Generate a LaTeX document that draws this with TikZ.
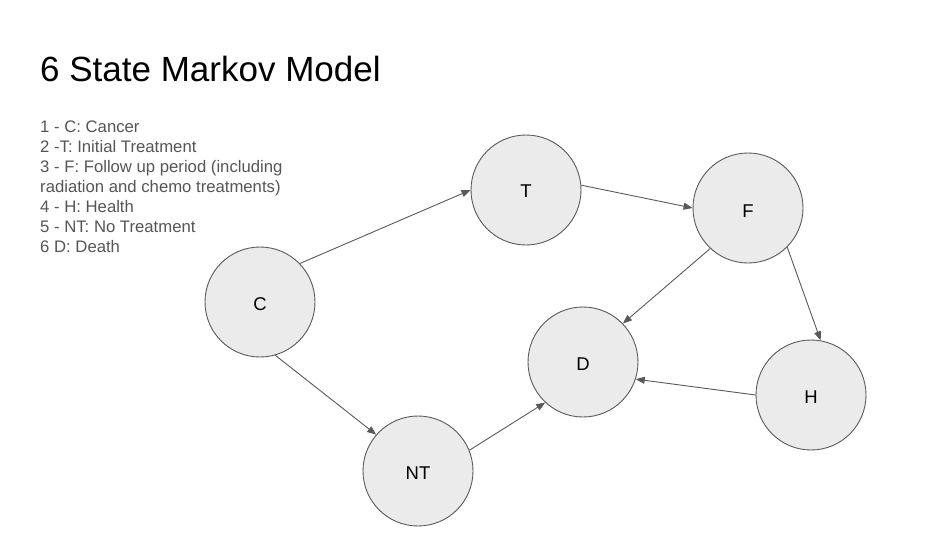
\documentclass[tikz,border=0pt]{standalone}
\usepackage{fontspec}
\setmainfont{Liberation Sans}
\usetikzlibrary{arrows.meta}
\definecolor{edgegray}{HTML}{595959}
\definecolor{fillgray}{HTML}{EBEBEB}
\definecolor{textgray}{HTML}{555555}
\begin{document}
\begin{tikzpicture}[x=1pt,y=-1pt,
  state/.style={circle,draw=edgegray,fill=fillgray,line width=0.9pt,minimum size=110pt,inner sep=0pt,font=\fontsize{18.5}{20}\selectfont},
  lbl/.style={inner sep=0pt,font=\fontsize{18.5}{20}\selectfont},
  trans/.style={draw=edgegray,line width=0.9pt,-{Triangle[length=9pt,width=7pt]}}]
\useasboundingbox (0,0) rectangle (925,541);
\node[anchor=base west,inner sep=0pt,font=\fontsize{35}{40}\selectfont] (title) at (40,81) {6 State Markov Model};
\node[anchor=north west,inner sep=0pt,align=left,text=textgray,font=\fontsize{16.7}{20}\selectfont] (legend) at (40,121) {1 - C: Cancer\\2 -T: Initial Treatment\\3 - F: Follow up period (including\\radiation and chemo treatments)\\4 - H: Health\\5 - NT: No Treatment\\6 D: Death};
\node[state] (C) at (260,302) {};
\node[state] (T) at (526,190) {};
\node[state] (F) at (748,208) {};
\node[state] (D) at (583,362) {};
\node[state] (H) at (811,395) {};
\node[state] (NT) at (418,471) {};
\node[lbl] (Cl) at (260,304) {C};
\node[lbl] (Tl) at (526,191) {T};
\node[lbl] (Fl) at (748,211) {F};
\node[lbl] (Dl) at (583,364) {D};
\node[lbl] (Hl) at (811,397) {H};
\node[lbl] (NTl) at (418,473) {NT};
\draw[trans] (C.44) -- (T.180);
\draw[trans] (T.5) -- (F.180);
\draw[trans] (F.227) -- (D.44);
\draw[trans] (F.315) -- (H.80);
\draw[trans] (H.180) -- (D.342);
\draw[trans] (NT.22) -- (D.227);
\draw[trans] (C.286) -- (NT.139);
\end{tikzpicture}
\end{document}
